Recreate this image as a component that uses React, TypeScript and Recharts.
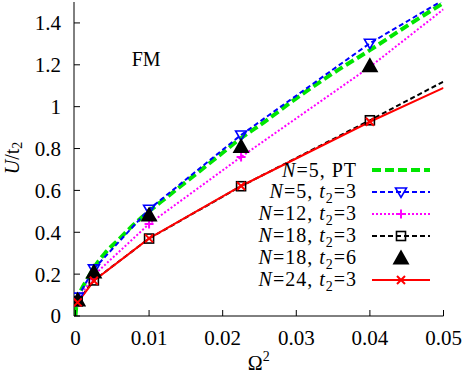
import React from 'react';
import {
  ComposedChart,
  Line,
  XAxis,
  YAxis,
  Label,
  Legend,
  ReferenceDot,
} from 'recharts';

// x positions of the computed points (Omega^2); the last entry is where each
// straight segment leaves the frame, no marker is drawn there
const omega2 = [0.0003, 0.0025, 0.01, 0.0225, 0.04, 0.05];
const n5t3 = [0.09, 0.225, 0.51, 0.865, 1.303, 1.51];
const n12t3 = [0.075, 0.195, 0.44, 0.76, 1.19, 1.465];
const n18t3 = [0.07, 0.17, 0.37, 0.62, 0.935, 1.12];
const n18t6 = [0.077, 0.21, 0.483, 0.81, 1.196];
const n24t3 = [0.065, 0.168, 0.371, 0.621, 0.928, 1.09];

// perturbation theory curve for N=5
const ptX = [0, 0.0001, 0.0003, 0.0006, 0.001, 0.0015, 0.0025, 0.004, 0.006, 0.008, 0.01, 0.0125, 0.015, 0.0175, 0.02, 0.0225, 0.025, 0.03, 0.035, 0.04, 0.045, 0.05];
const ptU = [0, 0.04, 0.075, 0.11, 0.14, 0.17, 0.23, 0.3, 0.37, 0.44, 0.5, 0.57, 0.64, 0.71, 0.78, 0.85, 0.91, 1.04, 1.16, 1.27, 1.385, 1.495];

const xTicks = [0, 0.01, 0.02, 0.03, 0.04, 0.05];
const yTicks = [0, 0.2, 0.4, 0.6, 0.8, 1, 1.2, 1.4];

const legendN = ['5', '5', '12', '18', '18', '24'];
const legendT2 = ['', '3', '3', '3', '6', '3'];

const FONT = 'Liberation Serif, Times New Roman, serif';
const X_DOMAIN = [-0.0002, 0.05];
const Y_DOMAIN = [0, 1.5];

const toRows = (xs: number[], ys: number[]) => ys.map((u, i) => ({ x: xs[i], u }));

type Kind = 'triDown' | 'plus' | 'square' | 'triUp' | 'cross';

function shape(kind: Kind, cx: number, cy: number, color: string) {
  switch (kind) {
    case 'triDown':
      return <path d={`M${cx - 5.5},${cy - 4} L${cx + 5.5},${cy - 4} L${cx},${cy + 5.5} Z`} fill="none" stroke={color} strokeWidth={1.6} />;
    case 'plus':
      return <path d={`M${cx - 4.5},${cy} H${cx + 4.5} M${cx},${cy - 4.5} V${cy + 4.5}`} stroke={color} strokeWidth={2} />;
    case 'square':
      return <rect x={cx - 4.5} y={cy - 4.5} width={9} height={9} fill="none" stroke={color} strokeWidth={1.6} />;
    case 'triUp':
      return <path d={`M${cx - 8.5},${cy + 6.5} L${cx + 8.5},${cy + 6.5} L${cx},${cy - 8.5} Z`} fill={color} />;
    case 'cross':
      return <path d={`M${cx - 4},${cy - 4} L${cx + 4},${cy + 4} M${cx - 4},${cy + 4} L${cx + 4},${cy - 4}`} stroke={color} strokeWidth={2} />;
  }
}

const dotOf = (kind: Kind, color: string) => (p: any) => {
  const key = `${kind}-${p.index}`;
  if (p.payload.x >= 0.05 || p.cx == null) return <g key={key} />;
  return <g key={key}>{shape(kind, p.cx, p.cy, color)}</g>;
};

const samples = [
  { color: '#00e600', width: 4, dash: '9 4', kind: null },
  { color: '#0000ff', width: 2, dash: '5 3', kind: 'triDown' },
  { color: '#ff00ff', width: 2, dash: '2 2', kind: 'plus' },
  { color: '#000000', width: 2, dash: '5 3', kind: 'square' },
  { color: '#000000', width: 0, dash: '', kind: 'triUp' },
  { color: '#ff0000', width: 2, dash: '', kind: 'cross' },
];

const LegendBox = () => (
  <div style={{ fontFamily: FONT, fontSize: 20, color: '#000', letterSpacing: 1 }}>
    {legendN.map((n, i) => {
      const s = samples[i];
      return (
        <div key={i} style={{ display: 'flex', alignItems: 'center', height: 22, lineHeight: '22px' }}>
          <span style={{ width: 157, textAlign: 'right', whiteSpace: 'nowrap' }}>
            <i>N</i>={n},{' '}
            {legendT2[i] ? (
              <>
                <i>t</i>
                <span style={{ fontSize: 14, position: 'relative', top: 5 }}>2</span>={legendT2[i]}
              </>
            ) : (
              'PT'
            )}
          </span>
          <svg width={58} height={22} style={{ marginLeft: 15 }}>
            {s.width > 0 && (
              <line x1={0} y1={11} x2={58} y2={11} stroke={s.color} strokeWidth={s.width} strokeDasharray={s.dash || undefined} />
            )}
            {s.kind && shape(s.kind as Kind, 29, 11, s.color)}
          </svg>
        </div>
      );
    })}
  </div>
);

const YTitle = (props: any) => {
  const vb = props.viewBox || { x: 0, y: 2, width: 74, height: 314 };
  const cx = vb.x + 12;
  const cy = vb.y + vb.height / 2 - 1;
  return (
    <text x={cx} y={cy} transform={`rotate(-90 ${cx} ${cy})`} textAnchor="middle" dominantBaseline="central" fontFamily={FONT} fontSize={20} fill="#000">
      <tspan fontStyle="italic">U</tspan>
      <tspan>/t</tspan>
      <tspan fontSize={14} dy={5}>2</tspan>
    </text>
  );
};

const XTitle = (props: any) => {
  const vb = props.viewBox || { x: 74, y: 316, width: 369.5, height: 59 };
  const cx = vb.x + vb.width / 2;
  const by = vb.y + 54;
  return (
    <text x={cx} y={by} textAnchor="middle" fontFamily={FONT} fontSize={20} fill="#000">
      <tspan>Ω</tspan>
      <tspan fontSize={14} dy={-9}>2</tspan>
    </text>
  );
};

const tickStyle = { fill: '#000', fontSize: 21, fontFamily: FONT };
const axisLine = { stroke: '#000', strokeWidth: 1 };
const blank = () => '';

export default function App() {
  return (
    <div style={{ position: 'absolute', left: 0, top: 0, width: 464, height: 375, background: '#fff', fontFamily: FONT }}>
      <ComposedChart width={464} height={375} margin={{ top: 2, right: 20.5, bottom: 0, left: 0 }}>
        <XAxis
          xAxisId="b"
          dataKey="x"
          type="number"
          domain={X_DOMAIN}
          ticks={xTicks}
          allowDataOverflow
          height={59}
          tick={tickStyle}
          tickSize={-6}
          tickMargin={20}
          tickLine={{ stroke: '#000' }}
          axisLine={axisLine}
        >
          <Label content={<XTitle />} />
        </XAxis>
        <XAxis
          xAxisId="t"
          orientation="top"
          type="number"
          domain={X_DOMAIN}
          ticks={xTicks}
          allowDataOverflow
          height={0}
          tickFormatter={blank}
          tickSize={-6}
          tickLine={{ stroke: '#000' }}
          axisLine={axisLine}
        />
        <YAxis
          yAxisId="l"
          type="number"
          domain={Y_DOMAIN}
          ticks={yTicks}
          allowDataOverflow
          width={74}
          tick={tickStyle}
          tickSize={-6}
          tickMargin={19}
          tickLine={{ stroke: '#000' }}
          axisLine={axisLine}
        >
          <Label content={<YTitle />} />
        </YAxis>
        <YAxis
          yAxisId="r"
          orientation="right"
          type="number"
          domain={Y_DOMAIN}
          ticks={yTicks}
          allowDataOverflow
          width={0}
          tickFormatter={blank}
          tickSize={-6}
          tickLine={{ stroke: '#000' }}
          axisLine={axisLine}
        />

        <Line xAxisId="b" yAxisId="l" data={toRows(ptX, ptU)} dataKey="u" type="monotone" stroke="#00e600" strokeWidth={4} strokeDasharray="9 4" dot={false} activeDot={false} isAnimationActive={false} />
        <Line xAxisId="b" yAxisId="l" data={toRows(omega2, n5t3)} dataKey="u" type="linear" stroke="#0000ff" strokeWidth={2} strokeDasharray="5 3" dot={dotOf('triDown', '#0000ff')} activeDot={false} isAnimationActive={false} />
        <Line xAxisId="b" yAxisId="l" data={toRows(omega2, n12t3)} dataKey="u" type="linear" stroke="#ff00ff" strokeWidth={2} strokeDasharray="2 2" dot={dotOf('plus', '#ff00ff')} activeDot={false} isAnimationActive={false} />
        <Line xAxisId="b" yAxisId="l" data={toRows(omega2, n18t3)} dataKey="u" type="linear" stroke="#000000" strokeWidth={2} strokeDasharray="5 3" dot={dotOf('square', '#000000')} activeDot={false} isAnimationActive={false} />
        <Line xAxisId="b" yAxisId="l" data={toRows(omega2, n18t6)} dataKey="u" type="linear" stroke="none" dot={dotOf('triUp', '#000000')} activeDot={false} isAnimationActive={false} />
        <Line xAxisId="b" yAxisId="l" data={toRows(omega2, n24t3)} dataKey="u" type="linear" stroke="#ff0000" strokeWidth={2} dot={dotOf('cross', '#ff0000')} activeDot={false} isAnimationActive={false} />

        <ReferenceDot
          xAxisId="b"
          yAxisId="l"
          x={0.0096}
          y={1.23}
          r={0}
          fill="none"
          stroke="none"
          label={{ value: 'FM', position: 'center', fill: '#000', fontSize: 20, fontFamily: FONT }}
        />

        <Legend
          layout="vertical"
          align="center"
          verticalAlign="middle"
          content={<LegendBox />}
          wrapperStyle={{ left: 200, top: 159, width: 240, height: 132 }}
        />
      </ComposedChart>
    </div>
  );
}
